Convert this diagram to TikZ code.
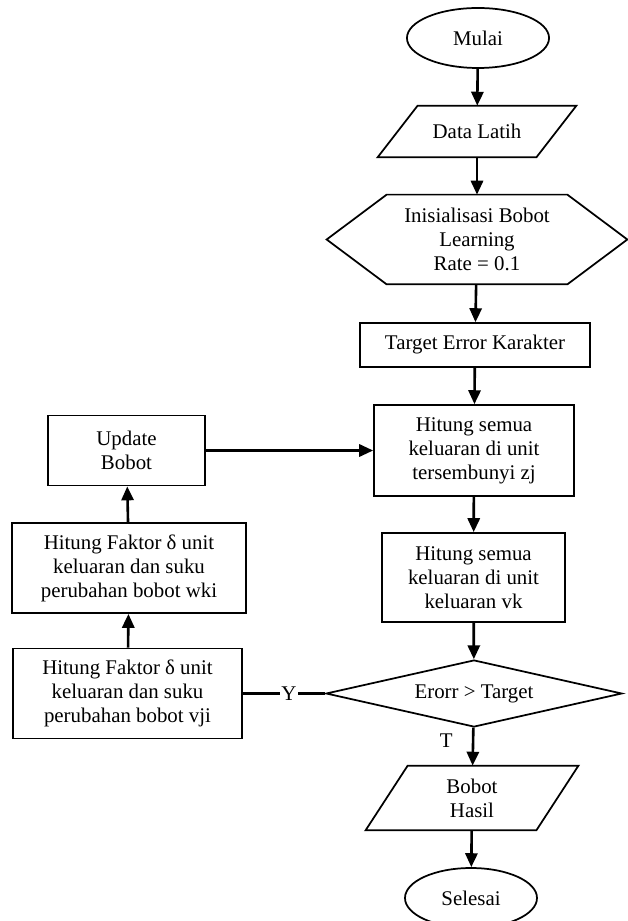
\documentclass[tikz,border=0pt]{standalone}
\usepackage{fontspec}
\setmainfont{Liberation Serif}
\usetikzlibrary{shapes.geometric, arrows.meta}

\begin{document}
\begin{tikzpicture}[x=0.575pt, y=-0.575pt, font=\fontsize{12}{13.8}\selectfont,
    every node/.style={align=center, inner sep=0pt},
    proses/.style={draw, line width=1pt, rectangle},
    terminal/.style={draw, line width=1pt, ellipse},
    keputusan/.style={draw, line width=1pt, diamond, aspect=4.4},
    bentuk/.style={rectangle},
    tepi/.style={line width=1pt},
    panah/.style={line width=1.5pt, -{Triangle[length=8pt, width=7pt]}},
    garis/.style={line width=1.3pt}]
      \useasboundingbox (0,0) rectangle (627,921);

      \node[terminal, minimum width=81.7pt, minimum height=34.5pt] (mulai) at (478,38) {Mulai};
      \node[bentuk, minimum width=90.9pt, minimum height=29.3pt] (data) at (477,131.5) {Data Latih};
      \node[bentuk, minimum width=103.5pt, minimum height=51.2pt] (init) at (477,239.5) {Inisialisasi Bobot\\Learning\\Rate = 0.1};
      \node[proses, minimum width=132.3pt, minimum height=25.3pt] (target) at (475,345) {Target Error Karakter};
      \node[proses, minimum width=115pt, minimum height=52.3pt] (zj) at (474,450.5) {Hitung semua\\keluaran di unit\\tersembunyi zj};
      \node[proses, minimum width=105.2pt, minimum height=51.2pt] (vk) at (473.5,577.5) {Hitung semua\\keluaran di unit\\keluaran vk};
      \node[keputusan, minimum width=170.2pt, minimum height=38.5pt] (cek) at (474,693.5) {Erorr > Target};
      \node[bentuk, minimum width=97.8pt, minimum height=36.8pt] (hasil) at (472,798) {Bobot\\Hasil};
      \node[terminal, minimum width=75.9pt, minimum height=34.5pt] (selesai) at (471,898) {Selesai};

      \node[proses, minimum width=90.3pt, minimum height=40.3pt] (update) at (126.5,450.5) {Update\\Bobot};
      \node[proses, minimum width=134.6pt, minimum height=51.8pt] (wki) at (129,568) {Hitung Faktor δ unit\\keluaran dan suku\\perubahan bobot wki};
      \node[proses, minimum width=131.7pt, minimum height=51.8pt] (vji) at (127.5,693.5) {Hitung Faktor δ unit\\keluaran dan suku\\perubahan bobot vji};

      % jajaran genjang dan segi enam
      \draw[tepi] ([xshift=-11.5pt]data.south west) -- ([xshift=11.5pt]data.north west) -- ([xshift=11.5pt]data.north east) -- ([xshift=-11.5pt]data.south east) -- cycle;
      \draw[tepi] ([xshift=-12.1pt]hasil.south west) -- ([xshift=12.1pt]hasil.north west) -- ([xshift=12.1pt]hasil.north east) -- ([xshift=-12.1pt]hasil.south east) -- cycle;
      \draw[tepi] (init.north west) -- (init.north east) -- ([xshift=34.5pt]init.east) -- (init.south east) -- (init.south west) -- ([xshift=-34.5pt]init.west) -- cycle;

      \draw[panah] (mulai) -- (data);
      \draw[panah] (data) -- (init);
      \draw[panah] (init) -- (target);
      \draw[panah] (target) -- (zj);
      \draw[panah] (zj) -- (vk);
      \draw[panah] (vk) -- (cek);
      \draw[panah] (cek) -- node[pos=0.33, left=11pt] {T} (hasil);
      \draw[panah] (hasil) -- (selesai);
      \draw[garis] (cek) -- node[pos=0.44, fill=white, inner sep=1pt] {Y} (vji);
      \draw[panah] (vji) -- (wki);
      \draw[panah] (wki) -- (update);
      \draw[panah] (update) -- (zj);
    \end{tikzpicture}
\end{document}
